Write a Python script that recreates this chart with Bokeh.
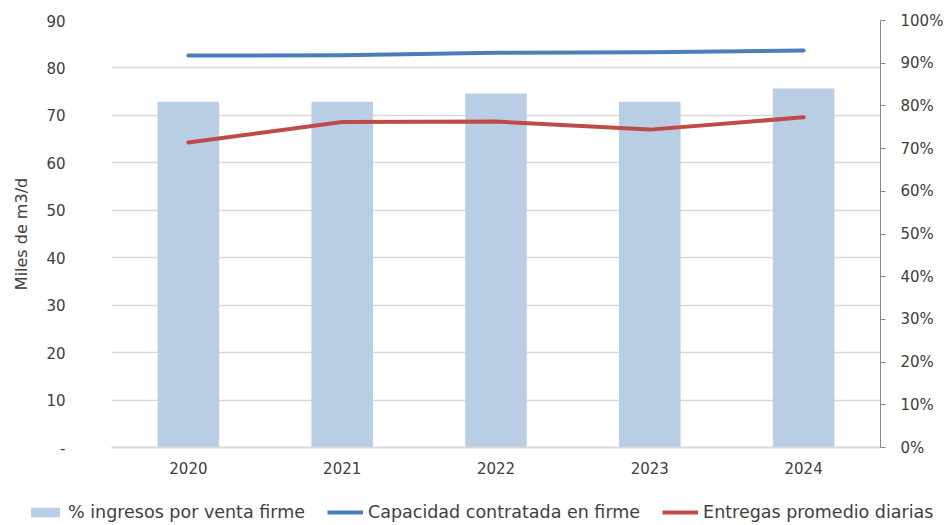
from bokeh.plotting import figure
from bokeh.layouts import column
from bokeh.models import (Range1d, LinearAxis, FixedTicker, PrintfTickFormatter,
                          Legend, LegendItem, ColumnDataSource)
from bokeh.embed import file_html
from bokeh.resources import INLINE

years = ["2020", "2021", "2022", "2023", "2024"]
pct_ingresos = [81.0, 81.0, 82.9, 81.0, 84.1]          # right axis, %
capacidad = [82.6, 82.7, 83.2, 83.3, 83.7]             # left axis, miles m3/d
entregas = [64.3, 68.6, 68.7, 67.0, 69.6]              # left axis, miles m3/d
left_ticks = [0, 10, 20, 30, 40, 50, 60, 70, 80, 90]
right_ticks = [0, 10, 20, 30, 40, 50, 60, 70, 80, 90, 100]
series_names = ["% ingresos por venta firme", "Capacidad contratada en firme",
                "Entregas promedio diarias"]

FONT = "DejaVu Sans"
TXT = "#404040"
BAR_C, BLUE_C, RED_C = "#b9cde5", "#4a7ebb", "#be4b48"

src = ColumnDataSource(dict(x=years, pct=pct_ingresos, cap=capacidad, ent=entregas))

p = figure(width=946, height=485, x_range=years, y_range=Range1d(0, 90),
           output_backend="svg", toolbar_location=None,
           min_border_left=111, min_border_right=65, min_border_top=20,
           min_border_bottom=38)
p.outline_line_color = None
p.extra_y_ranges = {"pct": Range1d(0, 100)}

p.vbar(x="x", top="pct", width=0.4, source=src, y_range_name="pct",
       fill_color=BAR_C, line_color=None)
p.line(x="x", y="cap", source=src, line_color=BLUE_C, line_width=4,
       line_cap="round", line_join="round")
p.line(x="x", y="ent", source=src, line_color=RED_C, line_width=4,
       line_cap="round", line_join="round")

# left axis
ya = p.yaxis[0]
ya.ticker = FixedTicker(ticks=left_ticks)
ya.major_label_overrides = {0: "-"}
ya.axis_line_color = None
ya.major_tick_line_color = None
ya.minor_tick_line_color = None
ya.major_label_standoff = 40
ya.major_label_text_font = FONT
ya.major_label_text_font_size = "15px"
ya.major_label_text_color = TXT
ya.axis_label = "Miles de m3/d"
ya.axis_label_text_font = FONT
ya.axis_label_text_font_size = "16px"
ya.axis_label_text_font_style = "normal"
ya.axis_label_text_color = TXT
ya.axis_label_standoff = 12

# right axis
ra = LinearAxis(y_range_name="pct", ticker=FixedTicker(ticks=right_ticks),
                formatter=PrintfTickFormatter(format="%d%%"))
ra.axis_line_color = "#868686"
ra.major_tick_line_color = "#868686"
ra.major_tick_out = 5
ra.major_tick_in = 0
ra.minor_tick_line_color = None
ra.major_label_standoff = 15
ra.major_label_text_font = FONT
ra.major_label_text_font_size = "15px"
ra.major_label_text_color = TXT
p.add_layout(ra, "right")

# x axis
xa = p.xaxis[0]
xa.axis_line_color = "#d9d9d9"
xa.axis_line_width = 2
xa.major_tick_line_color = None
xa.minor_tick_line_color = None
xa.major_label_standoff = 8
xa.major_label_text_font = FONT
xa.major_label_text_font_size = "15px"
xa.major_label_text_color = TXT

p.xgrid.grid_line_color = None
p.ygrid.ticker = FixedTicker(ticks=left_ticks)
p.ygrid.grid_line_color = "#d9d9d9"
p.ygrid.grid_line_width = 1.5

# legend strip below the chart (glyph samples lie outside its visible range)
lg = figure(width=946, height=40, x_range=Range1d(0, 1), y_range=Range1d(0, 1),
            output_backend="svg", toolbar_location=None,
            x_axis_location=None, y_axis_location=None, min_border=0)
lg.outline_line_color = None
lg.grid.grid_line_color = None
r0 = lg.vbar(x=[5], top=[5], bottom=[4], width=0.4, fill_color=BAR_C, line_color=None)
r1 = lg.line(x=[5, 6], y=[5, 5], line_color=BLUE_C, line_width=4)
r2 = lg.line(x=[5, 6], y=[5, 5], line_color=RED_C, line_width=4)

free = "frame_align" in lg.properties()
if free:
    lg.frame_align = False
    p.frame_align = False

legend = Legend(items=[
    LegendItem(label=series_names[0], renderers=[r0]),
    LegendItem(label=series_names[1], renderers=[r1]),
    LegendItem(label=series_names[2], renderers=[r2]),
], orientation="horizontal")
legend.border_line_color = None
legend.background_fill_alpha = 0
legend.padding = 0
legend.margin = 0
legend.label_standoff = 5
legend.glyph_height = 12
legend.label_text_font = FONT
legend.label_text_color = TXT
if free:
    legend.location = (27, 3)
    legend.spacing = 22
    legend.glyph_width = 36
    legend.label_text_font_size = "17.5px"
else:
    legend.location = (4, 4)
    legend.spacing = 12
    legend.glyph_width = 30
    legend.label_text_font_size = "15px"
lg.add_layout(legend)

layout = column(p, lg, spacing=0)
open("out.html", "w").write(file_html(layout, INLINE))
